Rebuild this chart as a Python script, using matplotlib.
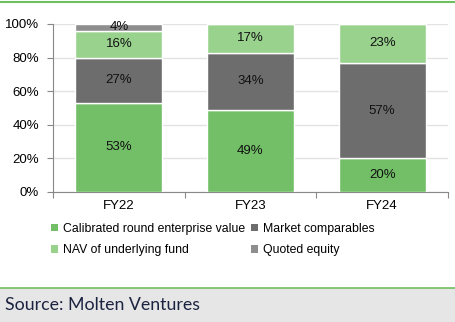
import matplotlib.pyplot as plt
from matplotlib.patches import Rectangle, Patch
from matplotlib.lines import Line2D
import numpy as np

# Valuation basis of the portfolio by year (%)
anios = ["FY22", "FY23", "FY24"]
calibrado = [53, 49, 20]
comparables = [27, 34, 57]
nav_fondo = [16, 17, 23]
cotizado = [4, 0, 0]

series = [
    ("Calibrated round enterprise value", calibrado, "#72bf67"),
    ("Market comparables", comparables, "#6d6d6d"),
    ("NAV of underlying fund", nav_fondo, "#98d28d"),
    ("Quoted equity", cotizado, "#8e8e8e"),
]

plt.rcParams['font.family'] = ['Liberation Sans', 'DejaVu Sans']
TAM = 9.5

W, H = 456, 322
fig = plt.figure(figsize=(W / 100, H / 100), dpi=100)
ax = fig.add_axes([53 / W, 1 - 192 / H, (448 - 53) / W, (192 - 24) / H])

x = np.arange(len(anios))
base = np.zeros(len(anios))
for nombre, valores, color in series:
    valores = np.array(valores, dtype=float)
    ax.bar(x, valores, width=0.66, bottom=base, color=color, edgecolor="white",
           linewidth=1, label=nombre, zorder=3)
    for xi, b, v in zip(x, base, valores):
        if v > 0:
            ax.text(xi, b + v / 2, f"{v:.0f}%", ha="center", va="center",
                    fontsize=TAM, color="#111111", zorder=4)
    base += valores

ax.set_xlim(-0.5, len(anios) - 0.5)
ax.set_ylim(0, 100)
ax.set_yticks(range(0, 101, 20))
ax.set_yticklabels([f"{v}%" for v in range(0, 101, 20)], fontsize=TAM)
ax.grid(axis="y", color="#e3e3e3", linewidth=1, zorder=0)

# category labels centred, ticks on the boundaries
ax.set_xticks(np.arange(-0.5, len(anios), 1))
ax.set_xticklabels([])
ax.set_xticks(x, minor=True)
ax.set_xticklabels(anios, minor=True, fontsize=TAM)
ax.tick_params(axis="x", which="minor", length=0, pad=6)
ax.tick_params(axis="x", which="major", length=4, color="#888888")
ax.tick_params(axis="y", length=4, color="#888888", pad=6)

for lado in ["top", "right"]:
    ax.spines[lado].set_visible(False)
for lado in ["left", "bottom"]:
    ax.spines[lado].set_color("#888888")

# legend laid out row by row
handles = [Patch(facecolor=c, edgecolor="none") for _, _, c in series]
etiquetas = [n for n, _, _ in series]
orden = [0, 2, 1, 3]
fig.legend([handles[i] for i in orden], [etiquetas[i] for i in orden],
           ncol=2, loc="upper left", bbox_to_anchor=(51 / W, 1 - 223 / H),
           frameon=False, fontsize=8.8, handlelength=0.55, handleheight=0.55,
           handletextpad=0.4, columnspacing=0.55, labelspacing=0.75,
           borderaxespad=0, borderpad=0)

# green rule at the top and source band at the bottom
fig.add_artist(Line2D([0, 1], [1 - 1.5 / H, 1 - 1.5 / H], color="#6fbf5f",
                      linewidth=1.5, transform=fig.transFigure))
fig.patches.append(Rectangle((0, 0), 1, (322 - 288) / H, transform=fig.transFigure,
                             facecolor="#e6e6e6", edgecolor="none", zorder=0))
fig.add_artist(Line2D([0, 1], [(322 - 288) / H] * 2, color="#6fbf5f",
                      linewidth=1.2, transform=fig.transFigure))
fig.text(5 / W, (322 - 305) / H, "Source: Molten Ventures", fontsize=12.8,
         family="Lato", color="#1b2340", ha="left", va="center")

fig.savefig("out.png", dpi=100)
